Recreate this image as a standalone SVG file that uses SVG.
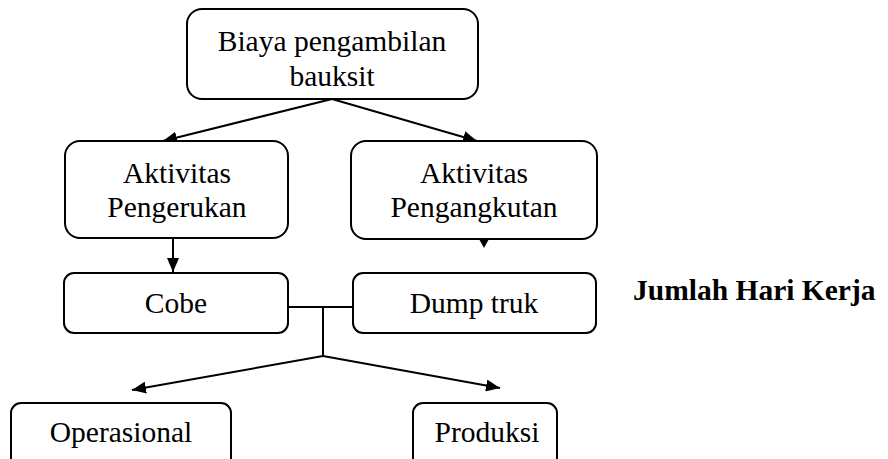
<svg xmlns="http://www.w3.org/2000/svg" width="888" height="459" viewBox="0 0 888 459">
<defs>
<marker id="ah" markerWidth="14" markerHeight="12" refX="14" refY="6" orient="auto" markerUnits="userSpaceOnUse">
<path d="M0,0 L14,6 L0,12 Z" fill="#000"/>
</marker>
<style>
.box{fill:#fff;stroke:#000;stroke-width:2}
.c{stroke:#000;stroke-width:2;fill:none}
</style>
</defs>
<rect width="888" height="459" fill="#fff"/>
<g id="connectors">
<line class="c" x1="332" y1="99" x2="163" y2="141" marker-end="url(#ah)"/>
<line class="c" x1="332" y1="99" x2="477" y2="141" marker-end="url(#ah)"/>
<line class="c" x1="173" y1="238" x2="173" y2="272" marker-end="url(#ah)"/>
<polygon points="479,239 489,239 484,248" fill="#000"/>
<line class="c" x1="288" y1="307" x2="353" y2="307"/>
<line class="c" x1="323" y1="307" x2="323" y2="356"/>
<line class="c" x1="323" y1="356" x2="132" y2="390" marker-end="url(#ah)"/>
<line class="c" x1="323" y1="356" x2="500" y2="388" marker-end="url(#ah)"/>
</g>
<g id="biaya">
<rect class="box" x="187" y="9" width="291" height="90" rx="15"/>
<text x="332" y="51" style="font-family:'Liberation Serif',serif !important;font-size:29.5px;text-anchor:middle">Biaya pengambilan</text>
<text x="332" y="86" style="font-family:'Liberation Serif',serif !important;font-size:29.5px;text-anchor:middle">bauksit</text>
</g>
<g id="pengerukan">
<rect class="box" x="65" y="141" width="223" height="97" rx="15"/>
<text x="177" y="183" style="font-family:'Liberation Serif',serif !important;font-size:29.5px;text-anchor:middle">Aktivitas</text>
<text x="177" y="217" style="font-family:'Liberation Serif',serif !important;font-size:29.5px;text-anchor:middle">Pengerukan</text>
</g>
<g id="pengangkutan">
<rect class="box" x="351" y="141" width="246" height="98" rx="15"/>
<text x="474" y="183" style="font-family:'Liberation Serif',serif !important;font-size:29.5px;text-anchor:middle">Aktivitas</text>
<text x="474" y="217" style="font-family:'Liberation Serif',serif !important;font-size:29.5px;text-anchor:middle">Pengangkutan</text>
</g>
<g id="cobe">
<rect class="box" x="64" y="273" width="224" height="60" rx="10"/>
<text x="176" y="313" style="font-family:'Liberation Serif',serif !important;font-size:29.5px;text-anchor:middle">Cobe</text>
</g>
<g id="dumptruk">
<rect class="box" x="353" y="273" width="243" height="60" rx="10"/>
<text x="474" y="313" style="font-family:'Liberation Serif',serif !important;font-size:29.5px;text-anchor:middle">Dump truk</text>
</g>
<g id="jumlah">
<text x="633" y="300" style="font-family:'Liberation Serif',serif !important;font-size:29.5px;font-weight:bold">Jumlah Hari Kerja</text>
</g>
<g id="operasional">
<rect class="box" x="11" y="403" width="220" height="66" rx="10"/>
<text x="121" y="442" style="font-family:'Liberation Serif',serif !important;font-size:29.5px;text-anchor:middle">Operasional</text>
</g>
<g id="produksi">
<rect class="box" x="413" y="403" width="144" height="66" rx="10"/>
<text x="487" y="442" style="font-family:'Liberation Serif',serif !important;font-size:29.5px;text-anchor:middle">Produksi</text>
</g>
</svg>
